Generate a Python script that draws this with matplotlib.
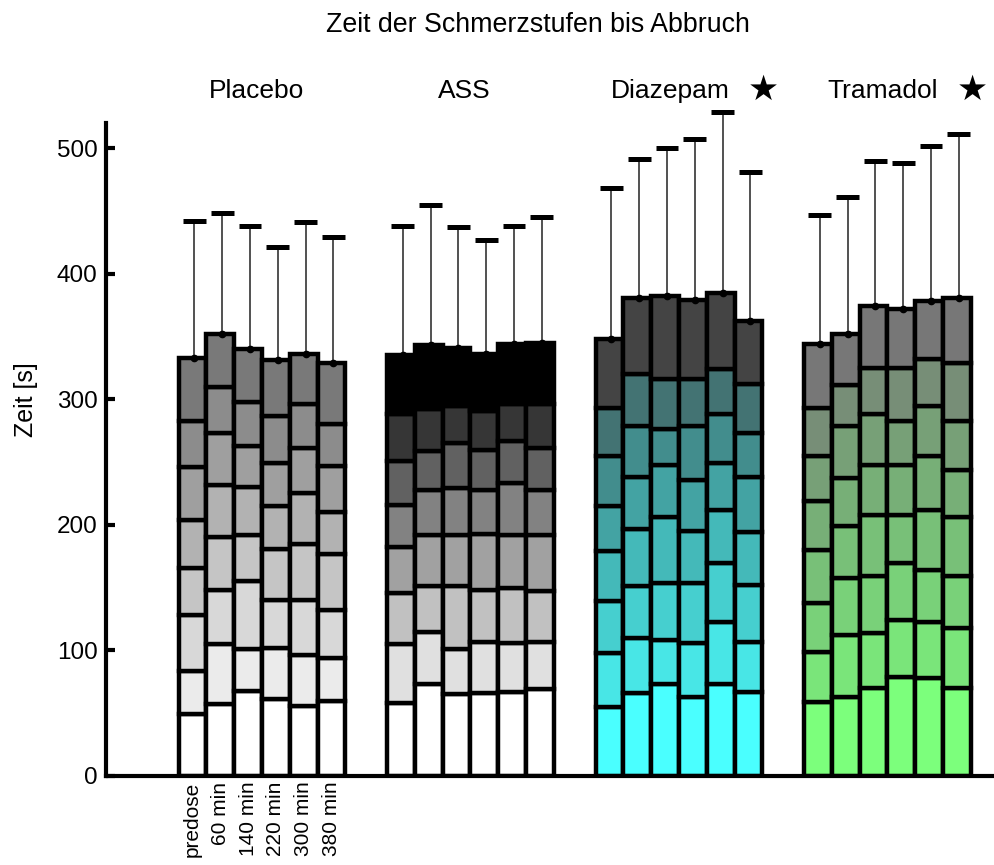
import numpy as np
import matplotlib
matplotlib.use('Agg')
import matplotlib.pyplot as plt
from matplotlib.transforms import blended_transform_factory

plt.rcParams['font.family'] = ['Liberation Sans', 'DejaVu Sans']

groups = ['Placebo', 'ASS', 'Diazepam', 'Tramadol']
significant = [False, False, True, True]
timepoints = ['predose', '60 min', '140 min', '220 min', '300 min', '380 min']

# cumulative Zeit [s] at the upper edge of each Schmerzstufe (8 stages per bar)
placebo_tops = [
    [49, 84, 128, 166, 204, 246, 283, 333],
    [57, 105, 148, 190, 232, 273, 310, 352],
    [68, 101, 155, 192, 230, 263, 298, 340],
    [61, 102, 140, 181, 215, 249, 287, 331],
    [56, 96, 140, 185, 225, 261, 296, 336],
    [60, 94, 132, 177, 210, 247, 280, 329],
]
ass_tops = [
    [58, 105, 146, 182, 216, 251, 288, 335],
    [73, 115, 151, 192, 228, 259, 292, 343],
    [65, 101, 151, 192, 229, 265, 295, 341],
    [66, 107, 148, 193, 228, 260, 291, 336],
    [67, 106, 150, 192, 233, 267, 296, 344],
    [69, 107, 147, 192, 228, 261, 296, 345],
]
diazepam_tops = [
    [55, 98, 139, 179, 215, 255, 293, 348],
    [66, 110, 151, 197, 238, 279, 320, 381],
    [73, 108, 154, 206, 248, 276, 316, 382],
    [63, 106, 154, 195, 236, 279, 316, 379],
    [73, 123, 170, 212, 249, 288, 324, 385],
    [67, 107, 152, 194, 238, 273, 312, 362],
]
tramadol_tops = [
    [59, 99, 138, 180, 219, 255, 293, 344],
    [63, 112, 158, 199, 237, 279, 311, 352],
    [70, 114, 159, 208, 248, 288, 325, 374],
    [79, 124, 170, 208, 248, 283, 325, 372],
    [78, 123, 164, 212, 255, 295, 332, 378],
    [70, 118, 159, 206, 244, 283, 329, 381],
]

# upper end of the error bars (mean + SD)
placebo_err = [442, 448, 438, 421, 441, 429]
ass_err = [438, 455, 437, 427, 438, 445]
diazepam_err = [468, 491, 500, 507, 529, 481]
tramadol_err = [447, 461, 490, 488, 502, 511]

placebo_colors = ['#FFFFFF', '#EBEBEB', '#D8D8D8', '#C5C5C5', '#B2B2B2', '#9F9F9F', '#8C8C8C', '#797979']
ass_colors = ['#FFFFFF', '#E0E0E0', '#C1C1C1', '#A1A1A1', '#828282', '#616161', '#363636', '#000000']
diazepam_colors = ['#4AFFFF', '#48E6E6', '#46CFCF', '#44B9B9', '#43A3A3', '#428D8D', '#437373', '#444444']
tramadol_colors = ['#7CFF7C', '#7AE57A', '#79D179', '#78C078', '#77AF77', '#77A077', '#778E77', '#777777']

all_tops = [placebo_tops, ass_tops, diazepam_tops, tramadol_tops]
all_err = [placebo_err, ass_err, diazepam_err, tramadol_err]
all_colors = [placebo_colors, ass_colors, diazepam_colors, tramadol_colors]

group_step = 7.5
label_shift = [-0.18, -0.22, -0.32, -0.16]

fig = plt.figure(figsize=(9.95, 8.65), dpi=100)
ax = fig.add_axes([106 / 995, 89 / 865, 889 / 995, 653 / 865])

for g, (tops, err, cols) in enumerate(zip(all_tops, all_err, all_colors)):
    for i, bar_tops in enumerate(tops):
        x = g * group_step + i
        bottoms = [0] + bar_tops[:-1]
        heights = np.diff([0] + bar_tops)
        ax.bar([x] * len(heights), heights, bottom=bottoms, width=1.0, color=cols,
               edgecolor='black', linewidth=3.2, zorder=2)
    xs = g * group_step + np.arange(len(tops)) + 0.07
    totals = [t[-1] for t in tops]
    ax.vlines(xs, totals, err, color='#333333', lw=1.2, zorder=3, clip_on=False)
    ax.plot(xs, totals, 'o', color='black', ms=4.5, zorder=4, clip_on=False)
    ax.hlines(err, xs - 0.41, xs + 0.41, color='black', lw=3.6, zorder=4, clip_on=False)

ax.set_xlim(-3.11, 28.87)
ax.set_ylim(0, 520)

for side in ['top', 'right']:
    ax.spines[side].set_visible(False)
for side in ['left', 'bottom']:
    ax.spines[side].set_linewidth(3)

ax.set_yticks(range(0, 501, 100))
ax.tick_params(axis='y', direction='in', length=6.5, width=3, labelsize=17.5, pad=6)
ax.set_xticks(np.arange(len(timepoints)), timepoints, rotation=90)
ax.tick_params(axis='x', length=0, labelsize=15, pad=4)

ax.set_ylabel('Zeit [s]', fontsize=18)
ax.yaxis.set_label_coords(-0.0765, 0.576)

# group names above the bars, star marks the significant ones
trans = blended_transform_factory(ax.transData, fig.transFigure)
for g, name in enumerate(groups):
    cx = g * group_step + 2.5 + label_shift[g]
    ax.text(cx, 0.8864, name, transform=trans, ha='center', va='baseline', fontsize=19)
    if significant[g]:
        ax.text(g * group_step + 5.55, 0.8848, '\u2605', transform=trans, ha='center',
                va='baseline', fontsize=25, family=['DejaVu Sans'])

fig.text(0.541, 0.9634, 'Zeit der Schmerzstufen bis Abbruch', ha='center', va='baseline', fontsize=19.3)

fig.savefig('out.png', dpi=100)
